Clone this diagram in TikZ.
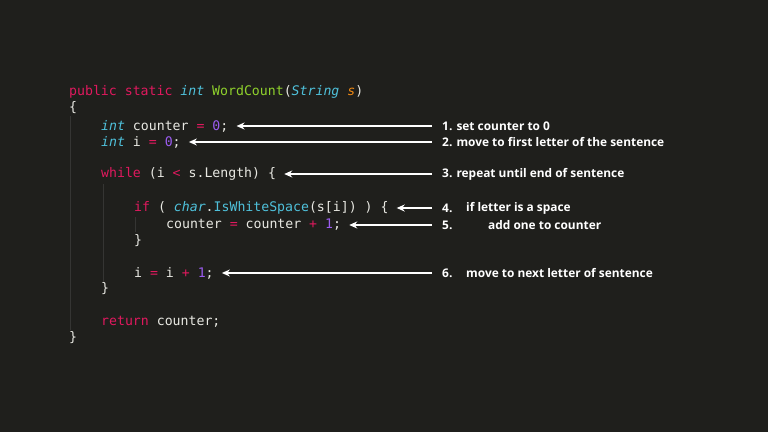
\documentclass[tikz,border=0pt]{standalone}
\usepackage{fontspec}
\setmonofont{DejaVu Sans Mono}
\setsansfont{Open Sans}
\usetikzlibrary{arrows.meta}
\definecolor{bg}{HTML}{1F1F1C}
\definecolor{kw}{HTML}{E0195E}
\definecolor{ty}{HTML}{4FC1DB}
\definecolor{fn}{HTML}{8FD12C}
\definecolor{ar}{HTML}{F08A14}
\definecolor{nm}{HTML}{9B5CF0}
\definecolor{tx}{HTML}{E8E8E2}
\newcommand{\K}[1]{\textcolor{kw}{#1}}
\newcommand{\T}[1]{\textcolor{ty}{\itshape #1}}
\newcommand{\F}[1]{\textcolor{fn}{#1}}
\newcommand{\A}[1]{\textcolor{ar}{\itshape #1}}
\newcommand{\N}[1]{\textcolor{nm}{#1}}
\newcommand{\M}[1]{\textcolor{ty}{#1}}
\tikzset{
 code/.style={anchor=west,inner sep=0pt,text=tx,font=\ttfamily\fontsize{13.2}{15}\selectfont},
 lab/.style={anchor=west,inner sep=0pt,text=white,font=\sffamily\bfseries\fontsize{11.9}{14}\selectfont},
 arr/.style={draw=white,line width=1.3pt,-{Stealth[length=8pt,width=7pt]}},
 guide/.style={draw=white!10!bg,line width=0.5pt}
}
\begin{document}
\begin{tikzpicture}[x=1pt,y=-1pt]
\fill[bg] (0,0) rectangle (768,432);
\useasboundingbox (0,0) rectangle (768,432);
\draw[guide] (70,116) -- (70,330);
\draw[guide] (103,184) -- (103,282);
\draw[guide] (135,217) -- (135,232);
\node[code] (c0) at (69,92) {\K{public} \K{static} \T{int} \F{WordCount}(\T{String} \A{s})};
\node[code] (c00) at (69,108) {\{};
\node[code] (c1) at (101,126) {\T{int} counter \K{=} \N{0};};
\node[code] (c2) at (101,142) {\T{int} i \K{=} \N{0};};
\node[code] (c3) at (101,174) {\K{while} (i \K{<} s.Length) \{};
\node[code] (c4) at (134,208) {\K{if} ( \T{char}.\M{IsWhiteSpace}(s[i]) ) \{};
\node[code] (c5) at (166,225) {counter \K{=} counter \K{+} \N{1};};
\node[code] (cb) at (134,241) {\}};
\node[code] (c6) at (134,273) {i \K{=} i \K{+} \N{1};};
\node[code] (c8) at (101,289) {\}};
\node[code] (c9) at (101,322) {\K{return} counter;};
\node[code] (c10) at (69,338) {\}};
\node[lab] (l1) at (442,126) {1. set counter to 0};
\node[lab] (l2) at (442,142) {2. move to first letter of the sentence};
\node[lab] (l3) at (442,174) {3. repeat until end of sentence};
\node[lab] (l4) at (442,208) {4.};
\node[lab] (t4) at (466,208) {if letter is a space};
\node[lab] (l5) at (442,225) {5.};
\node[lab] (t5) at (488,225) {add one to counter};
\node[lab] (l6) at (442,273) {6.};
\node[lab] (t6) at (466,273) {move to next letter of sentence};
\foreach \i in {1,...,6}{
 \draw[arr] ([xshift=-10pt]l\i.west) -- ([xshift=8pt]c\i.east);
}
\end{tikzpicture}
\end{document}
